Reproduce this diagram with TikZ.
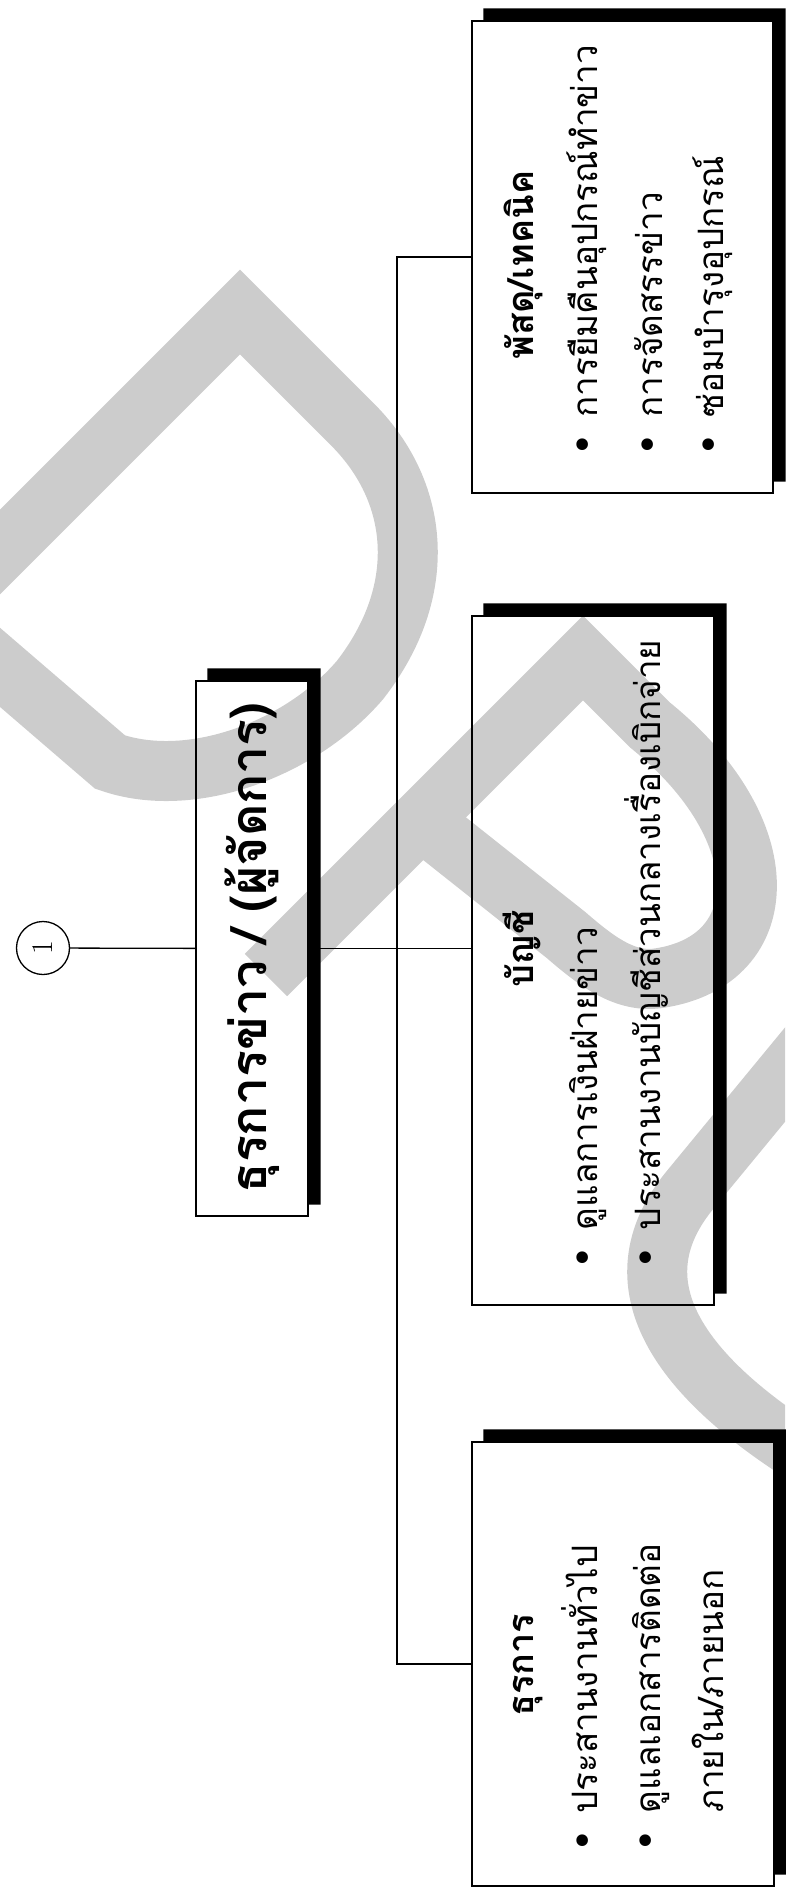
\documentclass[tikz,border=0pt]{standalone}
\usepackage{fontspec}
\newfontfamily\thai[Script=Thai]{Loma}
\newfontfamily\symfont{DejaVu Sans}
\newcommand{\dotmark}{{\symfont\fontsize{40}{40}\selectfont •}\hspace{16pt}}

\begin{document}
\begin{tikzpicture}[x=1pt,y=-1pt,
    unitbox/.style={draw,line width=1.3pt,inner sep=0pt},
    item/.style={rotate=90,anchor=base west,inner sep=0pt,font=\thai\fontsize{35}{40}\selectfont},
    title/.style={rotate=90,anchor=base,inner sep=0pt,font=\thai\bfseries\fontsize{36}{40}\selectfont},
    wm/.style={draw=gray!40,line width=60pt,miter limit=10}]
  \useasboundingbox (0,0) rectangle (785,1888);
  \begin{scope}
    \clip (0,0) rectangle (785,1888);
    \draw[wm] (-62,614) -- (240,312) -- (350,422) .. controls (420,490) and (430,590) .. (360,680)
      .. controls (300,750) and (190,790) .. (110,762) -- cycle;
    \draw[wm] (266,975) -- (583,658) -- (650,725) .. controls (780,830) and (775,960) .. (660,978)
      .. controls (625,984) and (595,960) .. (566,935) -- (421,820);
    \draw[wm] (830,1020) -- (690,1190) .. controls (620,1275) and (660,1370) .. (830,1470);
  \end{scope}
  \node[unitbox,minimum width=301pt,minimum height=472pt] (tech) at (622.5,257) {};
  \node[unitbox,minimum width=242pt,minimum height=689pt] (acct) at (593,960.5) {};
  \node[unitbox,minimum width=302pt,minimum height=444pt] (admin) at (623,1664) {};
  \node[unitbox,minimum width=112pt,minimum height=535pt] (boss) at (252,948.5) {};
  \foreach \b in {tech,acct,admin,boss}
    \fill ([shift={(12,-12)}]\b.north west) -- ([shift={(12,-12)}]\b.north east)
      -- ([shift={(12,-12)}]\b.south east) -- ([shift={(0,-12)}]\b.south east)
      -- (\b.north east) -- ([shift={(12,0)}]\b.north west) -- cycle;
  \node[draw,circle,rotate=90,minimum size=53pt,inner sep=0pt,line width=1.3pt,font=\fontsize{30}{30}\selectfont] (one) at (43,948) {1};
  \coordinate (bus) at (397,948);
  \draw[line width=1.3pt] (one) -- (boss);
  \draw[line width=1.3pt] (boss.east) -- (boss.east -| acct.west);
  \draw[line width=1.3pt] (tech.west) -- (tech.west -| bus) -- (admin.west -| bus) -- (admin.west);
  \node[title,font=\thai\bfseries\fontsize{50}{54}\selectfont] (bosstxt) at (266,948) {ธุรการข่าว / (ผู้จัดการ)};
  \node[title] (techhead) at (533,265) {พัสดุ/เทคนิค};
  \node[item] (techa) at (597,457) {\dotmark การยืมคืนอุปกรณ์ทำข่าว};
  \node[item] (techb) at (662,457) {\dotmark การจัดสรรข่าว};
  \node[item] (techc) at (723,457) {\dotmark ซ่อมบำรุงอุปกรณ์};
  \node[title] (accthead) at (533,949) {บัญชี};
  \node[item] (accta) at (597,1270) {\dotmark ดูแลการเงินฝ่ายข่าว};
  \node[item] (acctb) at (660,1270) {\dotmark ประสานงานบัญชีส่วนกลางเรื่องเบิกจ่าย};
  \node[title] (adminhead) at (533,1665) {ธุรการ};
  \node[item] (admina) at (597,1853) {\dotmark ประสานงานทั่วไป};
  \node[item] (adminb) at (660,1853) {\dotmark ดูแลเอกสารติดต่อ};
  \node[item] (adminc) at (723,1813) {ภายใน/ภายนอก};
\end{tikzpicture}
\end{document}
